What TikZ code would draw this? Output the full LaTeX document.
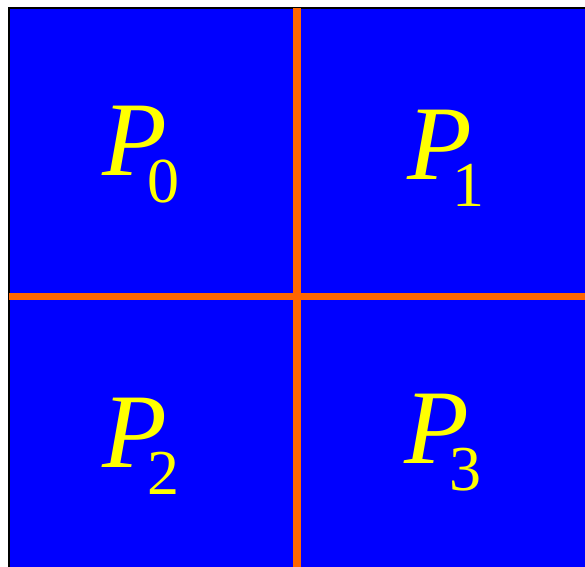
\documentclass[tikz,border=0pt]{standalone}
\usepackage{fontspec}
\setmainfont{Liberation Serif}
\definecolor{panelblue}{RGB}{0,0,255}
\definecolor{splitorange}{RGB}{255,102,0}
\definecolor{labelyellow}{RGB}{255,255,0}
\newcommand{\plabel}[1]{{\fontsize{106}{110}\selectfont\itshape P}\kern-19pt\raisebox{-27pt}{\fontsize{64}{64}\selectfont #1}}
\begin{document}
\begin{tikzpicture}[x=1pt,y=-1pt,
  lbl/.style={anchor=base west,inner sep=0pt,text=labelyellow}]
\useasboundingbox (0,0) rectangle (585,566);
\clip (0,0) rectangle (585,566);
\fill[white] (0,0) rectangle (585,566);
\fill[panelblue,draw=black,line width=2pt] (9,8) rectangle (600,580);
\draw[splitorange,line width=8pt] (297,8) -- (297,580);
\draw[splitorange,line width=7pt] (9,296) -- (600,296);
\node[lbl] (p0) at (102,175.5) {\plabel{0}};
\node[lbl] (p1) at (407,179) {\plabel{1}};
\node[lbl] (p2) at (102,467) {\plabel{2}};
\node[lbl] (p3) at (404,463) {\plabel{3}};
\end{tikzpicture}
\end{document}
